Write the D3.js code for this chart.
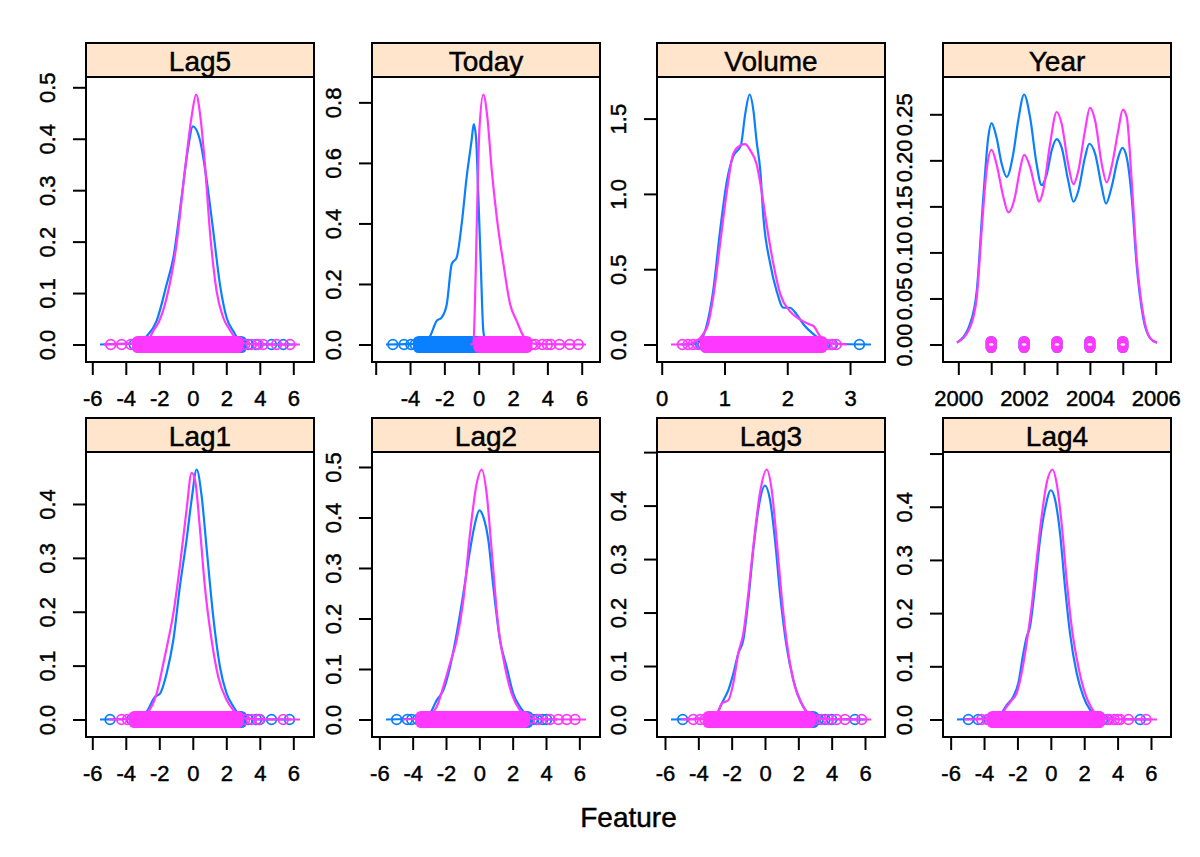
<!DOCTYPE html>
<html><head><meta charset="utf-8">
<script src="https://cdn.jsdelivr.net/npm/d3@7"></script>
<style>
body{margin:0;background:#fff}
svg{display:block}
text{font-family:"Liberation Sans",Arial,Helvetica,sans-serif;fill:#000;stroke:#000;stroke-width:0.45px;paint-order:stroke}
</style>
</head><body><svg id="c" width="1200" height="857"></svg>
<script>
// ---------- categories ----------
const panelNames = ["Lag5","Today","Volume","Year","Lag1","Lag2","Lag3","Lag4"];
const groupNames = ["Down","Up"];
const groupColors = ["#0a80ff","#ff38ff"];
const xAxisTitle = "Feature";

// ---------- tick values & labels ----------
const lagXTicks = [-6,-4,-2,0,2,4,6];
const lagXLabels = ["-6","-4","-2","0","2","4","6"];
const todayXLabels = ["","-4","-2","0","2","4","6"];
const volumeXTicks = [0,1,2,3];
const volumeXLabels = ["0","1","2","3"];
const yearXTicks = [2000,2001,2002,2003,2004,2005,2006];
const yearXLabels = ["2000","","2002","","2004","","2006"];
const yTicks05 = [0,0.1,0.2,0.3,0.4,0.5];
const yLabels05 = ["0.0","0.1","0.2","0.3","0.4","0.5"];
const yLabels04 = ["0.0","0.1","0.2","0.3","0.4",""];
const yTicks04 = [0,0.1,0.2,0.3,0.4];
const todayYTicks = [0,0.2,0.4,0.6,0.8];
const todayYLabels = ["0.0","0.2","0.4","0.6","0.8"];
const volumeYTicks = [0,0.5,1,1.5];
const volumeYLabels = ["0.0","0.5","1.0","1.5"];
const yearYTicks = [0,0.05,0.1,0.15,0.2,0.25];
const yearYLabels = ["0.00","0.05","0.10","0.15","0.20","0.25"];

// ---------- density curves [x, density] ----------
const lag5Down = [[-5.54,0],[-3.3,0.002],[-2.76,0.016],[-2.16,0.046],[-1.56,0.117],[-1.16,0.169],[-0.67,0.286],[-0.27,0.384],[0,0.424],[0.43,0.397],[0.83,0.319],[1.22,0.221],[1.62,0.117],[2.02,0.052],[2.42,0.026],[2.8,0.007],[3.4,0.001],[6.2,0]];
const lag5Up = [[-5.3,0],[-3.2,0.002],[-2.6,0.012],[-2.3,0.03],[-2.16,0.036],[-1.56,0.091],[-0.97,0.195],[-0.47,0.339],[-0.07,0.443],[0.2,0.486],[0.43,0.449],[0.72,0.352],[1.02,0.221],[1.42,0.104],[1.82,0.052],[2.2,0.029],[2.7,0.007],[3.3,0.001],[6.4,0]];
const todayDown = [[-5.4,0],[-3.3,0.003],[-2.83,0.028],[-2.45,0.078],[-2.16,0.089],[-1.86,0.133],[-1.57,0.266],[-1.28,0.288],[-0.99,0.399],[-0.7,0.554],[-0.41,0.676],[-0.29,0.728],[-0.16,0.687],[-0.02,0.488],[0.12,0.266],[0.27,0.044],[0.45,0.002],[0.7,0]];
const todayUp = [[-0.5,0],[-0.31,0.003],[-0.21,0.155],[-0.12,0.377],[0.04,0.709],[0.27,0.826],[0.5,0.753],[0.76,0.576],[1.05,0.421],[1.44,0.266],[1.83,0.133],[2.21,0.078],[2.6,0.028],[2.99,0.006],[3.6,0.001],[6.25,0]];
const volumeDown = [[0.3,0],[0.5,0.003],[0.61,0.022],[0.72,0.133],[0.82,0.356],[0.93,0.756],[1.04,1.089],[1.14,1.25],[1.26,1.32],[1.33,1.53],[1.4,1.66],[1.46,1.556],[1.51,1.356],[1.57,1.156],[1.62,0.844],[1.73,0.533],[1.83,0.356],[1.94,0.244],[2.04,0.244],[2.15,0.2],[2.26,0.133],[2.42,0.067],[2.58,0.022],[2.75,0.005],[3.334,0]];
const volumeUp = [[0.148,0],[0.4,0.003],[0.5,0.011],[0.72,0.111],[0.82,0.311],[0.93,0.667],[1.04,1.022],[1.14,1.267],[1.25,1.322],[1.33,1.33],[1.41,1.289],[1.51,1.2],[1.59,1.022],[1.67,0.8],[1.78,0.533],[1.89,0.333],[2.04,0.222],[2.2,0.167],[2.36,0.133],[2.42,0.122],[2.52,0.056],[2.68,0.011],[2.95,0]];
const yearDown = [[1999.96,0.002],[2000.35,0.022],[2000.56,0.058],[2000.76,0.16],[2000.91,0.225],[2001.01,0.2405],[2001.16,0.225],[2001.32,0.196],[2001.47,0.182],[2001.67,0.207],[2001.82,0.243],[2002.0,0.2715],[2002.18,0.247],[2002.38,0.196],[2002.53,0.173],[2002.69,0.185],[2002.84,0.211],[2002.99,0.223],[2003.14,0.214],[2003.34,0.178],[2003.5,0.155],[2003.65,0.167],[2003.85,0.203],[2003.98,0.218],[2004.16,0.207],[2004.36,0.171],[2004.49,0.153],[2004.66,0.171],[2004.86,0.203],[2004.99,0.2135],[2005.12,0.203],[2005.27,0.16],[2005.42,0.087],[2005.62,0.029],[2005.83,0.007],[2006.04,0.002]];
const yearUp = [[1999.96,0.002],[2000.35,0.018],[2000.56,0.051],[2000.71,0.124],[2000.86,0.189],[2001.01,0.2115],[2001.16,0.196],[2001.37,0.16],[2001.52,0.1435],[2001.72,0.16],[2001.87,0.189],[2002.0,0.206],[2002.18,0.193],[2002.38,0.163],[2002.45,0.155],[2002.58,0.167],[2002.79,0.218],[2002.99,0.2525],[2003.14,0.24],[2003.34,0.196],[2003.5,0.174],[2003.65,0.189],[2003.85,0.232],[2004.0,0.257],[2004.16,0.243],[2004.36,0.196],[2004.51,0.176],[2004.66,0.193],[2004.86,0.232],[2005.0,0.255],[2005.12,0.247],[2005.27,0.178],[2005.42,0.094],[2005.62,0.033],[2005.83,0.007],[2006.04,0.002]];
const lag1Down = [[-5.54,0],[-3.3,0.002],[-2.76,0.014],[-2.26,0.042],[-1.96,0.048],[-1.56,0.086],[-1.16,0.148],[-0.77,0.247],[-0.37,0.334],[-0.07,0.408],[0.23,0.464],[0.53,0.414],[0.83,0.316],[1.22,0.191],[1.62,0.098],[2.02,0.048],[2.42,0.024],[2.8,0.008],[3.4,0.001],[5.9,0]];
const lag1Up = [[-5.0,0],[-3.3,0.002],[-2.76,0.011],[-2.16,0.048],[-1.76,0.104],[-1.46,0.148],[-1.16,0.197],[-0.77,0.285],[-0.37,0.39],[-0.07,0.458],[0.13,0.445],[0.43,0.353],[0.72,0.247],[1.12,0.148],[1.52,0.079],[2.02,0.036],[2.42,0.017],[2.8,0.005],[3.4,0.001],[6.4,0]];
const lag2Down = [[-5.6,0],[-3.4,0.002],[-2.96,0.012],[-2.56,0.038],[-2.16,0.058],[-1.76,0.104],[-1.36,0.17],[-0.96,0.249],[-0.56,0.335],[-0.26,0.388],[0,0.414],[0.24,0.401],[0.54,0.355],[0.84,0.263],[1.24,0.157],[1.64,0.104],[2.04,0.051],[2.44,0.025],[2.84,0.009],[3.4,0.001],[4.7,0]];
const lag2Up = [[-4.6,0],[-3.4,0.002],[-2.96,0.009],[-2.56,0.025],[-2.16,0.065],[-1.76,0.111],[-1.36,0.157],[-0.96,0.236],[-0.56,0.368],[-0.16,0.467],[0.14,0.495],[0.44,0.447],[0.74,0.335],[1.14,0.183],[1.54,0.104],[1.94,0.051],[2.44,0.018],[2.84,0.005],[3.4,0.001],[6.4,0]];
const lag3Down = [[-5.64,0],[-3.4,0.002],[-2.9,0.011],[-2.5,0.036],[-2.2,0.055],[-1.9,0.086],[-1.6,0.124],[-1.3,0.149],[-1.0,0.224],[-0.7,0.318],[-0.4,0.393],[0,0.4375],[0.3,0.411],[0.6,0.336],[0.9,0.236],[1.3,0.136],[1.7,0.074],[2.1,0.036],[2.5,0.014],[2.9,0.005],[3.5,0.001],[6.0,0]];
const lag3Up = [[-5.0,0],[-3.4,0.002],[-2.9,0.008],[-2.6,0.03],[-2.2,0.036],[-1.9,0.068],[-1.6,0.124],[-1.3,0.161],[-1.0,0.236],[-0.7,0.324],[-0.3,0.424],[0.1,0.4675],[0.4,0.43],[0.7,0.336],[1.0,0.23],[1.4,0.124],[1.8,0.061],[2.2,0.03],[2.6,0.011],[2.9,0.004],[3.5,0.001],[6.36,0]];
const lag4Down = [[-5.62,0],[-3.5,0.002],[-3.05,0.008],[-2.65,0.027],[-2.25,0.043],[-1.95,0.068],[-1.65,0.124],[-1.45,0.155],[-1.25,0.174],[-0.95,0.249],[-0.65,0.337],[-0.35,0.395],[0,0.431],[0.25,0.414],[0.55,0.351],[0.85,0.249],[1.15,0.162],[1.55,0.087],[1.95,0.043],[2.35,0.018],[2.75,0.006],[3.4,0.001],[6.0,0]];
const lag4Up = [[-5.2,0],[-3.5,0.001],[-3.05,0.005],[-2.65,0.024],[-2.35,0.036],[-2.05,0.049],[-1.75,0.087],[-1.45,0.143],[-1.15,0.212],[-0.85,0.3],[-0.55,0.382],[-0.25,0.444],[0.1,0.47],[0.35,0.444],[0.65,0.368],[0.95,0.262],[1.25,0.174],[1.65,0.099],[2.05,0.049],[2.45,0.021],[2.85,0.006],[3.4,0.001],[6.36,0]];

// ---------- jittered observation points at density 0 ----------
// dense cores (ranges where circles overlap into a solid band) and isolated circles
const lag5DownCore = [[-3.2,2.9]];  const lag5DownPts = [-3.5,3.3,3.8,4.7,5.4];
const lag5UpCore = [[-3.3,2.7]];    const lag5UpPts = [-4.9,-4.25,-3.7,3.1,3.5,3.9,4.2,5.0,5.8];
const todayDownCore = [[-3.5,-0.02]]; const todayDownPts = [-5.0,-4.35,-3.95,-3.7];
const todayUpCore = [[0.02,2.8]];   const todayUpPts = [3.1,3.3,3.7,4.0,4.2,4.7,5.3,5.8];
const volumeDownCore = [[0.72,2.5]]; const volumeDownPts = [0.62,0.66,2.6,2.72,3.15];
const volumeUpCore = [[0.7,2.55]];  const volumeUpPts = [0.33,0.42,0.5,0.58,2.62,2.7,2.78];
const yearDownCore = [[2001,2001],[2002,2002],[2003,2003],[2004,2004],[2005,2005]]; const yearDownPts = [];
const yearUpCore = [[2001,2001],[2002,2002],[2003,2003],[2004,2004],[2005,2005]];   const yearUpPts = [];
const lag1DownCore = [[-3.4,2.9]];  const lag1DownPts = [-4.94,-3.65,3.3,3.8,4.0,4.7,5.77];
const lag1UpCore = [[-3.5,2.7]];    const lag1UpPts = [-4.25,-3.9,3.1,3.5,3.95,5.4];
const lag2DownCore = [[-3.4,2.9]];  const lag2DownPts = [-4.96,-4.32,-4.06,-3.7,3.2,3.45,3.8,4.04];
const lag2UpCore = [[-3.5,2.7]];    const lag2UpPts = [3.0,3.54,4.24,4.74,5.24,5.74];
const lag3DownCore = [[-3.3,2.9]];  const lag3DownPts = [-4.94,3.2,3.6,4.0,5.4];
const lag3UpCore = [[-3.4,2.7]];    const lag3UpPts = [-4.3,-3.9,-3.6,3.0,3.4,3.8,4.3,4.8,5.8];
const lag4DownCore = [[-3.4,2.9]];  const lag4DownPts = [-4.94,-4.35,-3.7,3.1,3.4,5.35];
const lag4UpCore = [[-3.5,2.9]];    const lag4UpPts = [-4.15,-3.8,3.2,3.5,3.8,4.0,4.15,4.65,5.7];

// ---------- table built from the arrays ----------
const panels = [
  {curves:[lag5Down,lag5Up], cores:[lag5DownCore,lag5UpCore], pts:[lag5DownPts,lag5UpPts], xt:lagXTicks, xl:lagXLabels, yt:yTicks05, yl:yLabels05},
  {curves:[todayDown,todayUp], cores:[todayDownCore,todayUpCore], pts:[todayDownPts,todayUpPts], xt:lagXTicks, xl:todayXLabels, yt:todayYTicks, yl:todayYLabels},
  {curves:[volumeDown,volumeUp], cores:[volumeDownCore,volumeUpCore], pts:[volumeDownPts,volumeUpPts], xt:volumeXTicks, xl:volumeXLabels, yt:volumeYTicks, yl:volumeYLabels},
  {curves:[yearDown,yearUp], cores:[yearDownCore,yearUpCore], pts:[yearDownPts,yearUpPts], xt:yearXTicks, xl:yearXLabels, yt:yearYTicks, yl:yearYLabels},
  {curves:[lag1Down,lag1Up], cores:[lag1DownCore,lag1UpCore], pts:[lag1DownPts,lag1UpPts], xt:lagXTicks, xl:lagXLabels, yt:yTicks04, yl:yLabels04},
  {curves:[lag2Down,lag2Up], cores:[lag2DownCore,lag2UpCore], pts:[lag2DownPts,lag2UpPts], xt:lagXTicks, xl:lagXLabels, yt:yTicks05, yl:yLabels05},
  {curves:[lag3Down,lag3Up], cores:[lag3DownCore,lag3UpCore], pts:[lag3DownPts,lag3UpPts], xt:lagXTicks, xl:lagXLabels, yt:yTicks05, yl:yLabels04},
  {curves:[lag4Down,lag4Up], cores:[lag4DownCore,lag4UpCore], pts:[lag4DownPts,lag4UpPts], xt:lagXTicks, xl:lagXLabels, yt:yTicks05, yl:yLabels04}
];

// ---------- layout ----------
const colX = [86, 372, 657, 943];
const rowStripY = [43, 418];
const stripH = 34, W = 228, H = 285;
const R = 4.8, SW = 1.8;
const TICK_FS = 22;
const FONT = '"Liberation Sans", Arial, Helvetica, sans-serif';

const svg = d3.select("#c");
const defs = svg.append("defs");

panels.forEach((p, i) => {
  const col = i % 4, row = Math.floor(i / 4);
  const left = colX[col], top = rowStripY[row] + stripH, bottom = top + H;
  const all = p.curves.flat();
  const [lo, hi] = d3.extent(all, d => d[0]);
  const pad = 0.07 * (hi - lo);
  const x = d3.scaleLinear().domain([lo - pad, hi + pad]).range([left, left + W]);
  const M = d3.max(all, d => d[1]);
  const y = d3.scaleLinear().domain([-0.07 * M, 1.07 * M]).range([bottom, top]);
  const jitterPx = 0.01 * H;
  const hh = R + jitterPx + SW / 2;

  const cid = "clip" + i;
  defs.append("clipPath").attr("id", cid).append("rect")
    .attr("x", left).attr("y", top).attr("width", W).attr("height", H);

  const g = svg.append("g");
  const pg = g.append("g").attr("clip-path", `url(#${cid})`);
  const line = d3.line().x(d => x(d[0])).y(d => y(d[1])).curve(d3.curveMonotoneX);

  p.curves.forEach((curve, k) => {
    const color = groupColors[k];
    const y0 = y(0);
    p.cores[k].forEach(([a, b]) => {
      pg.append("rect")
        .attr("x", x(a) - R - SW / 2).attr("y", y0 - hh)
        .attr("width", x(b) - x(a) + 2 * R + SW).attr("height", 2 * hh)
        .attr("rx", R + SW / 2).attr("ry", R + SW / 2)
        .attr("fill", color);
      if (a === b) {
        pg.append("ellipse").attr("cx", x(a)).attr("cy", y0)
          .attr("rx", 2.4).attr("ry", 1.3).attr("fill", "#fff");
      }
    });
    pg.selectAll(null).data(p.pts[k]).join("circle")
      .attr("cx", d => x(d)).attr("cy", y0).attr("r", R)
      .attr("fill", "none").attr("stroke", color).attr("stroke-width", SW);
    pg.append("path").datum(curve).attr("d", line)
      .attr("fill", "none").attr("stroke", color).attr("stroke-width", 2.2);
  });

  // panel border
  g.append("rect").attr("x", left).attr("y", top).attr("width", W).attr("height", H)
    .attr("fill", "none").attr("stroke", "#000").attr("stroke-width", 2);

  // strip
  g.append("rect").attr("x", left).attr("y", top - stripH).attr("width", W).attr("height", stripH)
    .attr("fill", "#ffe5cc").attr("stroke", "#000").attr("stroke-width", 2);
  g.append("text").attr("x", left + W / 2).attr("y", top - 6.5)
    .attr("text-anchor", "middle").attr("font-size", 28).text(panelNames[i]);

  // x axis
  const xa = d3.axisBottom(x).tickValues(p.xt).tickFormat((d, j) => p.xl[j])
    .tickSize(13).tickPadding(15.5);
  const gx = g.append("g").attr("transform", `translate(0,${bottom})`).call(xa)
    .attr("font-size", TICK_FS).attr("font-family", FONT);
  gx.select(".domain").remove();
  gx.selectAll(".tick line").attr("stroke", "#000").attr("stroke-width", 2);
  gx.selectAll(".tick text").attr("fill", "#000");

  // y axis (labels rotated)
  const ya = d3.axisLeft(y).tickValues(p.yt).tickFormat((d, j) => p.yl[j]).tickSize(13);
  const gy = g.append("g").attr("transform", `translate(${left},0)`).call(ya)
    .attr("font-size", TICK_FS).attr("font-family", FONT);
  gy.select(".domain").remove();
  gy.selectAll(".tick line").attr("stroke", "#000").attr("stroke-width", 2);
  gy.selectAll(".tick text").attr("fill", "#000")
    .attr("x", 0).attr("y", -31).attr("dy", null)
    .attr("text-anchor", "middle").attr("transform", "rotate(-90)");
});

svg.append("text").attr("x", (colX[0] + colX[3] + W) / 2).attr("y", 827)
  .attr("text-anchor", "middle").attr("font-size", 28).text(xAxisTitle);
</script>
</body></html>
